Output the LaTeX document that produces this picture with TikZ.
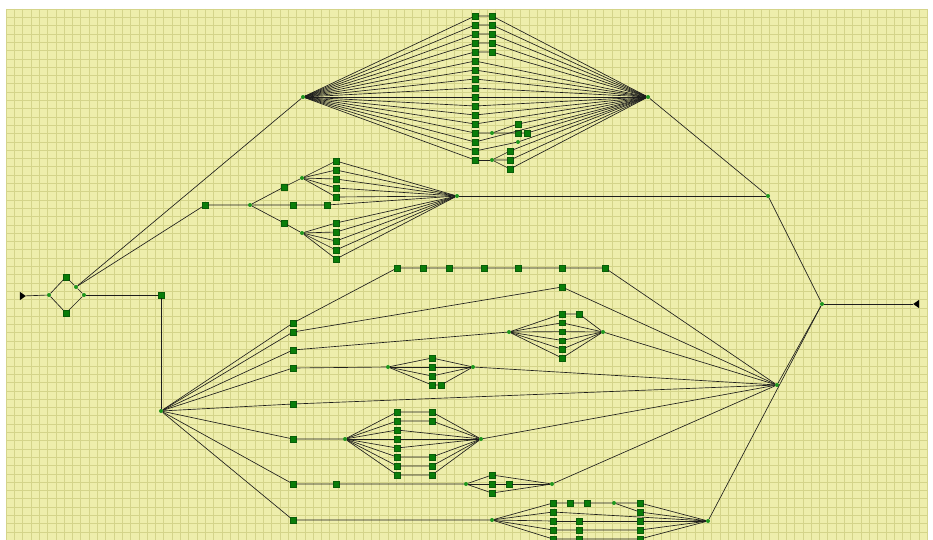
\documentclass[tikz,border=0pt]{standalone}
\usetikzlibrary{shapes.geometric}
\definecolor{PaperYellow}{RGB}{238,238,172}
\definecolor{GridLine}{RGB}{212,212,138}
\definecolor{NodeGreen}{RGB}{10,125,10}
\definecolor{DotGreen}{RGB}{30,150,30}
\definecolor{WireGray}{RGB}{30,30,28}
\tikzset{
  sq/.style={draw=NodeGreen!75!black, fill=NodeGreen, minimum size=5.5pt, inner sep=0pt, line width=0.3pt},
  pt/.style={circle, fill=DotGreen, minimum size=4pt, inner sep=0pt},
  wire/.style={draw=WireGray, line width=0.65pt},
  gridln/.style={draw=GridLine, line width=0.5pt},
  term/.style={isosceles triangle, isosceles triangle apex angle=70, fill=black,
               minimum height=6pt, minimum width=6pt, inner sep=0pt}
}

\begin{document}
\begin{tikzpicture}[x=1pt, y=-1pt]
\useasboundingbox (0,0) rectangle (933,540);

% paper
\fill[PaperYellow] (6,9) rectangle (927,540);
\foreach \i in {0,...,111} \draw[gridln] ({6+8.3*\i},9) -- ({6+8.3*\i},540);
\foreach \j in {0,...,63} \draw[gridln] (6,{9+8.3*\j}) -- (927,{9+8.3*\j});

% entry, small split and exit
\node[term] (start) at (22,296) {};
\node[pt] (split) at (49,295) {};
\node[sq] (dtop) at (66,277) {};
\node[sq] (dbot) at (66,313) {};
\node[pt] (fork) at (76,287) {};
\node[pt] (join) at (84,295) {};
\node[sq] (p1) at (161,295) {};
\node[pt] (hubM) at (161,411) {};
\node[pt] (m1) at (768,196) {};
\node[pt] (hubR) at (777,385) {};
\node[pt] (fin) at (822,304) {};
\node[term, shape border rotate=180] (stop) at (917,304) {};

\draw[wire] (start) -- (split) -- (dtop) -- (fork) -- (join);
\draw[wire] (split) -- (dbot) -- (join);
\draw[wire] (join) -- (p1) -- (hubM);
\draw[wire] (fin) -- (stop);

% big top diamond
\node[pt] (bigL) at (303,97) {};
\node[pt] (bigR) at (648,97) {};
\foreach \i in {1,...,17} \node[sq] (t\i) at (475,{16+9*(\i-1)}) {};
\foreach \i in {1,...,5} \node[sq] (tt\i) at (492,{16+9*(\i-1)}) {};
\node[pt] (x1) at (492,133) {};
\node[sq] (x2) at (518,124) {};
\node[sq] (x3) at (518,133) {};
\node[sq] (x4) at (527,133) {};
\node[pt] (x5) at (518,142) {};
\node[pt] (x6) at (492,160) {};
\foreach \k/\y in {7/151,8/160,9/169} \node[sq] (x\k) at (510,\y) {};

\draw[wire] (fork) -- (bigL);
\foreach \i in {1,...,17} \draw[wire] (bigL) -- (t\i);
\foreach \i in {1,...,5} \draw[wire] (t\i) -- (tt\i) -- (bigR);
\foreach \i in {6,...,13,15} \draw[wire] (t\i) -- (bigR);
\draw[wire] (t14) -- (x1) -- (x2) -- (bigR);
\draw[wire] (x1) -- (x3) -- (x4) -- (bigR);
\draw[wire] (t16) -- (x5) -- (bigR);
\draw[wire] (t17) -- (x6);
\foreach \k in {7,8,9} \draw[wire] (x6) -- (x\k) -- (bigR);
\draw[wire] (bigR) -- (m1) -- (fin);

% second diamond
\node[sq] (s1) at (205,205) {};
\node[pt] (s2) at (250,205) {};
\node[sq] (s3) at (284,187) {};
\node[pt] (s4) at (302,178) {};
\node[sq] (s5) at (293,205) {};
\node[sq] (s6) at (327,205) {};
\node[sq] (s7) at (284,223) {};
\node[pt] (s8) at (302,233) {};
\node[pt] (s9) at (457,196) {};
\foreach \i in {1,...,5} \node[sq] (u\i) at (336,{161+9*(\i-1)}) {};
\foreach \i in {1,...,5} \node[sq] (l\i) at (336,{223+9*(\i-1)}) {};

\draw[wire] (fork) -- (s1) -- (s2);
\draw[wire] (s2) -- (s3) -- (s4);
\draw[wire] (s2) -- (s5) -- (s6) -- (s9);
\draw[wire] (s2) -- (s7) -- (s8);
\foreach \i in {1,...,5} \draw[wire] (s4) -- (u\i) -- (s9);
\foreach \i in {1,...,5} \draw[wire] (s8) -- (l\i) -- (s9);
\draw[wire] (s9) -- (m1);

% lower fan: row A
\node[sq] (ra0) at (293,323) {};
\foreach \k/\x in {1/397,2/423,3/449,4/484,5/518,6/562,7/605} \node[sq] (ra\k) at (\x,268) {};
\draw[wire] (hubM) -- (ra0) -- (ra1) -- (ra2) -- (ra3) -- (ra4) -- (ra5) -- (ra6) -- (ra7) -- (hubR);

% row B
\node[sq] (rb0) at (293,332) {};
\node[sq] (rb1) at (562,287) {};
\draw[wire] (hubM) -- (rb0) -- (rb1) -- (hubR);

% row C
\node[sq] (rc0) at (293,350) {};
\node[pt] (rcL) at (509,332) {};
\foreach \i in {1,...,6} \node[sq] (rc\i) at (562,{314+8.8*(\i-1)}) {};
\node[sq] (rcx) at (579,314) {};
\node[pt] (rcR) at (603,332) {};
\draw[wire] (hubM) -- (rc0) -- (rcL);
\foreach \i in {1,...,6} \draw[wire] (rcL) -- (rc\i);
\draw[wire] (rc1) -- (rcx) -- (rcR);
\foreach \i in {2,...,6} \draw[wire] (rc\i) -- (rcR);
\draw[wire] (rcR) -- (hubR);

% row D
\node[sq] (rd0) at (293,368) {};
\node[pt] (rdL) at (388,367) {};
\foreach \i in {1,...,4} \node[sq] (rd\i) at (432,{358+9*(\i-1)}) {};
\node[sq] (rdx) at (441,385) {};
\node[pt] (rdR) at (473,367) {};
\draw[wire] (hubM) -- (rd0) -- (rdL);
\foreach \i in {1,...,4} \draw[wire] (rdL) -- (rd\i);
\foreach \i in {1,...,3} \draw[wire] (rd\i) -- (rdR);
\draw[wire] (rd4) -- (rdx) -- (rdR);
\draw[wire] (rdR) -- (hubR);

% row E
\node[sq] (re0) at (293,404) {};
\draw[wire] (hubM) -- (re0) -- (hubR);

% row F
\node[sq] (rf0) at (293,439) {};
\node[pt] (rfL) at (345,439) {};
\foreach \i in {1,...,8} \node[sq] (rf\i) at (397,{412+9*(\i-1)}) {};
\foreach \i in {1,2,6,7,8} \node[sq] (rff\i) at (432,{412+9*(\i-1)}) {};
\node[pt] (rfR) at (481,439) {};
\draw[wire] (hubM) -- (rf0) -- (rfL);
\foreach \i in {1,...,8} \draw[wire] (rfL) -- (rf\i);
\foreach \i in {1,2,6,7,8} \draw[wire] (rf\i) -- (rff\i) -- (rfR);
\foreach \i in {3,4,5} \draw[wire] (rf\i) -- (rfR);
\draw[wire] (rfR) -- (hubR);

% row G
\node[sq] (rg0) at (293,484) {};
\node[sq] (rg1) at (336,484) {};
\node[pt] (rgL) at (466,484) {};
\node[sq] (rg2) at (492,475) {};
\node[sq] (rg3) at (492,484) {};
\node[sq] (rg4) at (509,484) {};
\node[sq] (rg5) at (492,493) {};
\node[pt] (rgR) at (552,484) {};
\draw[wire] (hubM) -- (rg0) -- (rg1) -- (rgL);
\draw[wire] (rgL) -- (rg2) -- (rgR);
\draw[wire] (rgL) -- (rg3) -- (rg4) -- (rgR);
\draw[wire] (rgL) -- (rg5) -- (rgR);
\draw[wire] (rgR) -- (hubR);

% row H
\node[sq] (rh0) at (293,520) {};
\node[pt] (rhL) at (492,520) {};
\foreach \i/\y in {1/503,2/512,3/521,4/530,5/539} \node[sq] (rh\i) at (553,\y) {};
\node[sq] (rha) at (570,503) {};
\node[sq] (rhb) at (587,503) {};
\node[pt] (rhc) at (614,503) {};
\node[sq] (rhd) at (640,503) {};
\node[sq] (rhe) at (640,512) {};
\foreach \i/\y in {3/521,4/530,5/539} {
  \node[sq] (rhm\i) at (579,\y) {};
  \node[sq] (rhn\i) at (640,\y) {};
}
\node[pt] (rhR) at (708,521) {};
\draw[wire] (hubM) -- (rh0) -- (rhL);
\foreach \i in {1,...,5} \draw[wire] (rhL) -- (rh\i);
\draw[wire] (rh1) -- (rha) -- (rhb) -- (rhc) -- (rhd) -- (rhR);
\draw[wire] (rhc) -- (rhe) -- (rhR);
\draw[wire] (rh2) -- (rhR);
\foreach \i in {3,4,5} \draw[wire] (rh\i) -- (rhm\i) -- (rhn\i) -- (rhR);
\draw[wire] (rhR) -- (fin);
\draw[wire] (hubR) -- (fin);

\end{tikzpicture}
\end{document}
